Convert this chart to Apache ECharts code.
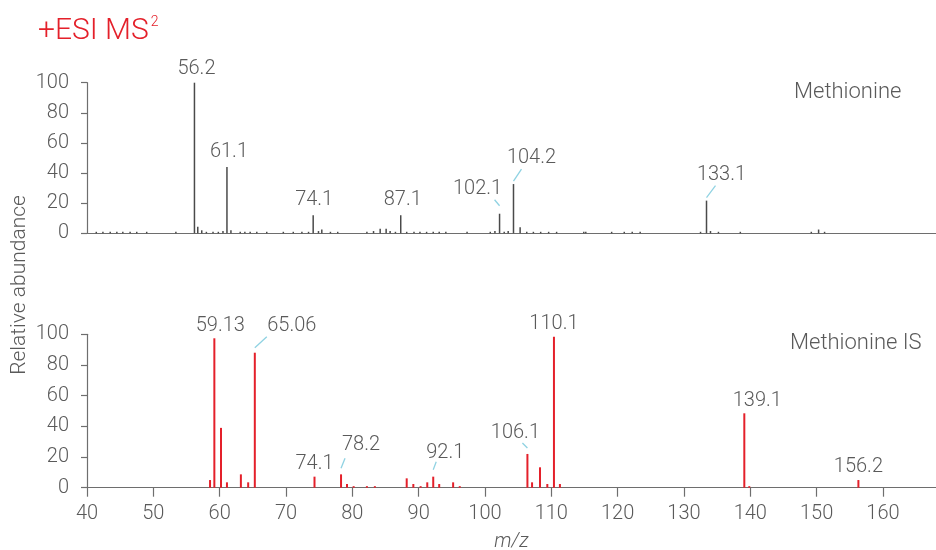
<!DOCTYPE html>
<html>
<head>
<meta charset="utf-8">
<script src="https://cdn.jsdelivr.net/npm/echarts@6/dist/echarts.min.js"></script>
<style>
  html, body { margin: 0; padding: 0; background: #fff; }
  #chart { width: 936px; height: 550px; }
</style>
</head>
<body>
<div id="chart"></div>
<script>
// Methionine (top panel)
const methMz = [41.4, 42.4, 43.5, 44.5, 45.4, 46.5, 47.5, 49.0, 53.4, 56.2, 56.7, 57.3, 58.0, 59.0, 59.8, 60.5,
  61.1, 61.7, 63.1, 63.8, 64.6, 65.6, 67.1, 69.6, 71.1, 72.4, 73.4, 74.1, 74.9, 75.4, 76.7, 77.8,
  82.2, 83.2, 84.2, 85.1, 85.7, 86.5, 87.3, 88.2, 89.3, 90.2, 91.2, 92.2, 93.1, 94.1, 97.3, 100.8,
  101.5, 102.2, 102.9, 103.5, 104.3, 105.3, 106.3, 107.3, 108.4, 109.6, 110.8, 114.9, 115.2, 119.1,
  121.0, 122.2, 123.4, 132.5, 133.4, 134.0, 135.2, 138.5, 149.2, 150.3, 151.2];
const methInt = [1, 1, 1, 1, 1, 1, 1, 1, 1, 100, 4.4, 2, 1, 1, 1, 1.5,
  44, 2, 1, 1, 1, 1, 1, 1, 1, 1, 1, 12, 1.5, 2.5, 1, 1,
  1, 1.5, 3, 3, 1.5, 1, 12, 1, 1, 1, 1, 1, 1, 1, 1, 1,
  1.5, 13, 1, 1.5, 32.7, 4, 1, 1, 1, 1, 1, 1, 1, 1,
  1, 1, 1, 1, 21.7, 1.5, 1, 1, 1, 2.5, 1];
const methLabels = ['56.2', '61.1', '74.1', '87.1', '102.1', '104.2', '133.1'];
const methLabelAt = [56.2, 61.1, 74.1, 87.3, 102.2, 104.3, 133.4];

// Methionine IS (bottom panel)
const isMz = [58.55, 59.2, 60.2, 61.1, 63.2, 64.3, 65.3, 74.3, 78.3, 79.2, 80.2, 82.2, 83.4, 88.2, 89.2,
  90.3, 91.3, 92.2, 93.1, 95.2, 96.2, 106.4, 107.1, 108.3, 109.4, 110.4, 111.3, 139.1, 139.85, 156.3];
const isInt = [5, 97.4, 39, 3.5, 8.7, 3.5, 88, 7.2, 8.7, 2.4, 1, 1, 1, 6.1, 2.4,
  1, 3.5, 7.2, 2.4, 3.5, 1, 22, 3.5, 13.3, 2.4, 98.4, 2.4, 48.5, 1, 5];
const isLabels = ['59.13', '65.06', '74.1', '78.2', '92.1', '106.1', '110.1', '139.1', '156.2'];
const isLabelAt = [59.2, 65.3, 74.3, 78.3, 92.2, 106.4, 110.4, 139.1, 156.3];

const xTicks = [40, 50, 60, 70, 80, 90, 100, 110, 120, 130, 140, 150, 160];
const yTicks = [0, 20, 40, 60, 80, 100];

// label placement relative to the peak top, in px (leader: [x1, y1, x2, y2])
const methLayout = [
  { dx: 2, dy: -14 }, { dx: 2, dy: -15 }, { dx: 1, dy: -15 }, { dx: 2, dy: -15 },
  { dx: -22, dy: -25, leader: [-5, -14, 0, -8] },
  { dx: 18, dy: -26, leader: [0, -3, 8, -15] },
  { dx: 15, dy: -26, leader: [0, -3, 9, -15] }
];
const isLayout = [
  { dx: 6, dy: -12 },
  { dx: 37, dy: -27, leader: [0, -5, 12, -16] },
  { dx: 0, dy: -13 },
  { dx: 20, dy: -29, leader: [0, -6, 4, -16] },
  { dx: 12, dy: -24, leader: [0, -7, 3, -15] },
  { dx: -12, dy: -21, leader: [-5, -11, 0, -6] },
  { dx: 0, dy: -13 },
  { dx: 13, dy: -12 },
  { dx: 0, dy: -13 }
];

const FONT = 'Roboto, "Liberation Sans", sans-serif';
const TEXT = '#5a5a5a';
const AXIS = '#6e6e6e';
const RED = '#e4202a';
const LEAD = '#8fd2e2';

function pairs(xs, ys) {
  return xs.map((x, i) => [x, ys[i]]);
}
function labelData(labels, at, xs, ys) {
  return labels.map((t, i) => [at[i], ys[xs.indexOf(at[i])], i]);
}
function labelSeries(idx, labels, at, xs, ys, layout) {
  return {
    type: 'custom',
    xAxisIndex: idx,
    yAxisIndex: idx,
    clip: false,
    z: 5,
    data: labelData(labels, at, xs, ys),
    renderItem: function (params, api) {
      const p = api.coord([api.value(0), api.value(1)]);
      const i = api.value(2);
      const L = layout[i];
      const children = [{
        type: 'text',
        x: p[0] + L.dx,
        y: p[1] + L.dy,
        style: {
          text: labels[i], fill: TEXT, font: '300 20px ' + FONT,
          align: 'center', verticalAlign: 'middle'
        }
      }];
      if (L.leader) {
        children.push({
          type: 'line',
          shape: { x1: p[0] + L.leader[0], y1: p[1] + L.leader[1], x2: p[0] + L.leader[2], y2: p[1] + L.leader[3] },
          style: { stroke: LEAD, lineWidth: 1.3 }
        });
      }
      return { type: 'group', children };
    }
  };
}

const yAxisBase = {
  type: 'value', min: 0, max: 100, interval: 20,
  splitLine: { show: false },
  axisLine: { show: true, lineStyle: { color: AXIS, width: 1.2 } },
  axisTick: { show: true, length: 6, lineStyle: { color: AXIS, width: 1.2 } },
  axisLabel: { color: TEXT, fontSize: 20, fontWeight: 300, fontFamily: FONT, margin: 18, customValues: yTicks }
};

const chart = echarts.init(document.getElementById('chart'));
chart.setOption({
  animation: false,
  grid: [
    { left: 87, right: 0, top: 82.7, height: 150.6, outerBoundsMode: 'none', containLabel: false },
    { left: 87, right: 0, top: 334.3, height: 153.4, outerBoundsMode: 'none', containLabel: false }
  ],
  xAxis: [
    {
      gridIndex: 0, type: 'value', min: 40, max: 168,
      splitLine: { show: false },
      axisLine: { lineStyle: { color: AXIS, width: 1.2 } },
      axisTick: { show: false }, axisLabel: { show: false }
    },
    {
      gridIndex: 1, type: 'value', min: 40, max: 168,
      splitLine: { show: false },
      axisLine: { lineStyle: { color: AXIS, width: 1.2 } },
      axisTick: { show: true, length: 9, lineStyle: { color: AXIS, width: 1.2 }, customValues: xTicks },
      axisLabel: { color: TEXT, fontSize: 20, fontWeight: 300, fontFamily: FONT, margin: 16, customValues: xTicks },
      name: 'm/z', nameLocation: 'middle', nameGap: 44,
      nameTextStyle: { color: TEXT, fontSize: 20, fontWeight: 300, fontStyle: 'italic', fontFamily: FONT }
    }
  ],
  yAxis: [
    Object.assign({ gridIndex: 0 }, yAxisBase),
    Object.assign({ gridIndex: 1 }, yAxisBase)
  ],
  graphic: [
    {
      type: 'text', left: 38, top: 15,
      style: {
        text: '{a|+ESI MS}{b|2}',
        rich: {
          a: { fontSize: 30, fontWeight: 300, fontFamily: FONT, fill: RED, lineHeight: 32 },
          b: { fontSize: 14, fontWeight: 300, fontFamily: FONT, fill: RED, verticalAlign: 'top', lineHeight: 32, padding: [0, 0, 14, 2] }
        }
      }
    },
    {
      type: 'text', x: 20, y: 285, rotation: Math.PI / 2,
      style: { text: 'Relative abundance', fill: TEXT, font: '300 21px ' + FONT, align: 'center', verticalAlign: 'middle' }
    },
    {
      type: 'text', x: 794, y: 92,
      style: { text: 'Methionine', fill: TEXT, font: '300 22px ' + FONT, align: 'left', verticalAlign: 'middle' }
    },
    {
      type: 'text', x: 790, y: 343,
      style: { text: 'Methionine IS', fill: TEXT, font: '300 22px ' + FONT, align: 'left', verticalAlign: 'middle' }
    }
  ],
  series: [
    {
      type: 'bar', xAxisIndex: 0, yAxisIndex: 0, barWidth: 1.5,
      itemStyle: { color: '#4a4a4a' }, data: pairs(methMz, methInt)
    },
    {
      type: 'bar', xAxisIndex: 1, yAxisIndex: 1, barWidth: 2,
      itemStyle: { color: RED }, data: pairs(isMz, isInt)
    },
    labelSeries(0, methLabels, methLabelAt, methMz, methInt, methLayout),
    labelSeries(1, isLabels, isLabelAt, isMz, isInt, isLayout)
  ]
});
</script>
</body>
</html>
